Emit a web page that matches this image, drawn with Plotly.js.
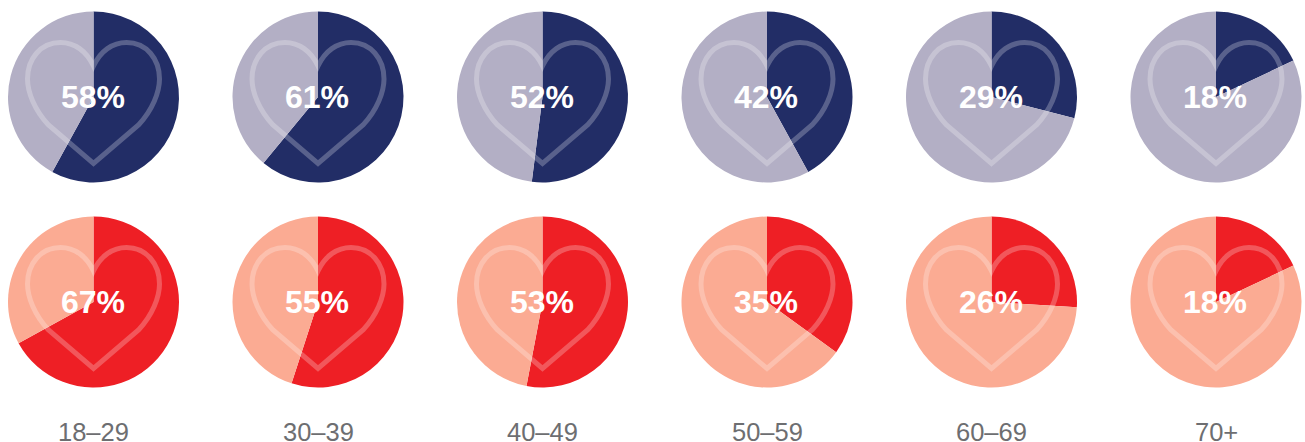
<!DOCTYPE html>
<html><head><meta charset="utf-8">
<script src="https://cdn.plot.ly/plotly-3.0.1.min.js"></script>
<style>html,body{margin:0;padding:0;background:#fff}#c{width:1305px;height:442px}</style>
</head><body><div id="c"></div>
<script>
const ageGroups = ['18–29','30–39','40–49','50–59','60–69','70+'];
const topValues = [58,61,52,42,29,18];
const bottomValues = [67,55,53,35,26,18];
const topColors = ['#222d66','#b3afc5'];
const bottomColors = ['#ee1f25','#fbab93'];
const centersX = [93.5,318,542.5,767,991.5,1216];
const rowCentersY = [97,302];
const W = 1305, H = 442, R = 85.5;
const heart = 'M0,31 C-7,46 -19,54.5 -33,54.5 C-53,54.5 -66,38 -66,18 C-66,5 -59,-13 -45,-28 L0,-66.5 L45,-28 C59,-13 66,5 66,18 C66,38 53,54.5 33,54.5 C19,54.5 7,46 0,31 Z';

const data = [], shapes = [], annotations = [];
[[topValues,topColors],[bottomValues,bottomColors]].forEach(([vals,cols],r)=>{
  vals.forEach((v,i)=>{
    const cx = centersX[i], cy = rowCentersY[r];
    data.push({type:'pie',values:[v,100-v],labels:['yes','no'],sort:false,direction:'clockwise',rotation:0,
      textinfo:'none',hoverinfo:'none',showlegend:false,
      marker:{colors:cols,line:{width:0}},
      domain:{x:[(cx-R)/W,(cx+R)/W],y:[1-(cy+R)/H,1-(cy-R)/H]}});
    shapes.push({type:'path',xref:'paper',yref:'paper',xsizemode:'pixel',ysizemode:'pixel',
      xanchor:cx/W,yanchor:1-cy/H,path:heart,line:{color:'rgba(255,255,255,0.25)',width:5,},layer:'above'});
    annotations.push({xref:'paper',yref:'paper',x:cx/W,y:1-cy/H,xanchor:'center',yanchor:'middle',xshift:-0.7,showarrow:false,
      text:v+'%',font:{family:'Liberation Sans, Arial, sans-serif',size:32,color:'#fff',weight:700}});
  });
});
ageGroups.forEach((g,i)=>annotations.push({xref:'paper',yref:'paper',x:centersX[i]/W,y:1-431.5/H,xanchor:'center',yanchor:'middle',showarrow:false,
  height:20,valign:'middle',borderpad:0,
  text:g,font:{family:'Liberation Sans, Arial, sans-serif',size:25.5,color:'#6d6e71'}}));

Plotly.newPlot('c',data,{width:W,height:H,margin:{l:0,r:0,t:0,b:0},paper_bgcolor:'#fff',shapes,annotations},{displayModeBar:false,staticPlot:true});
</script></body></html>
